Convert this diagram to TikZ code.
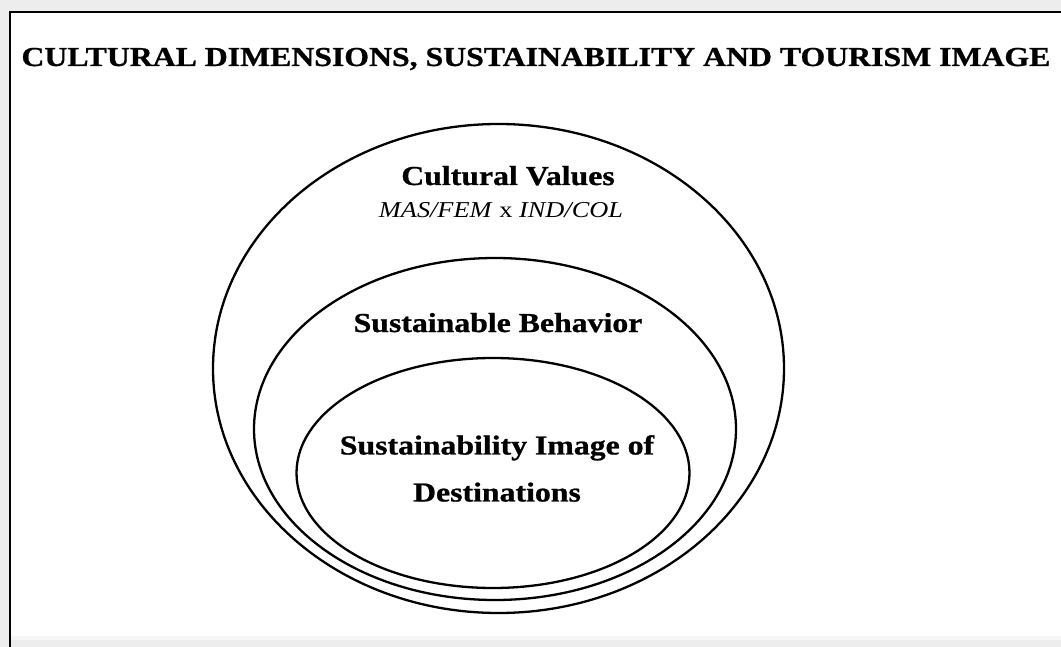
\documentclass[tikz,border=0pt]{standalone}
\usepackage{fontspec}
\setmainfont{Liberation Serif}[BoldFeatures={FakeBold=0.8}]
\usetikzlibrary{shapes.geometric}
\tikzset{
  ring/.style={ellipse, draw=black, line width=2.3pt, inner sep=0pt},
  lbl/.style={anchor=base, inner sep=0pt, xscale=1.16, transform shape, font=\fontsize{27.4}{47}\selectfont\bfseries, align=center},
  sub/.style={anchor=base, inner sep=0pt, xscale=1.16, transform shape, font=\fontsize{22.7}{26}\selectfont},
}
\begin{document}
\begin{tikzpicture}[x=1pt, y=-1pt]
  \useasboundingbox (0,0) rectangle (1061,647);
  % shadowed frame
  \fill[gray!14] (0,0) rectangle (1061,647);
  \fill[white] (10,12) rectangle (1061,640);
  \fill[gray!7] (10,636) rectangle (1061,640);
  \draw[line width=2pt, black] (10,647) -- (10,12) -- (1061,12);
  % title
  \node[lbl] (title) at (536,66) {CULTURAL DIMENSIONS, SUSTAINABILITY AND TOURISM IMAGE};
  % ellipses
  \node[ring, minimum width=571pt, minimum height=489pt] (outer) at (498.5,368.5) {};
  \node[ring, minimum width=482pt, minimum height=342pt] (middle) at (495,429) {};
  \node[ring, minimum width=393pt, minimum height=230pt] (inner) at (493,473) {};
  % labels
  \node[lbl] (cv) at (508,185) {Cultural Values};
  \node[sub] (dims) at (501,218) {\textit{MAS/FEM} x \textit{IND/COL}};
  \node[lbl] (sb) at (498,332) {Sustainable Behavior};
  \node[lbl, anchor=north] (sid) at (497,435) {Sustainability Image of\\Destinations};
\end{tikzpicture}
\end{document}
